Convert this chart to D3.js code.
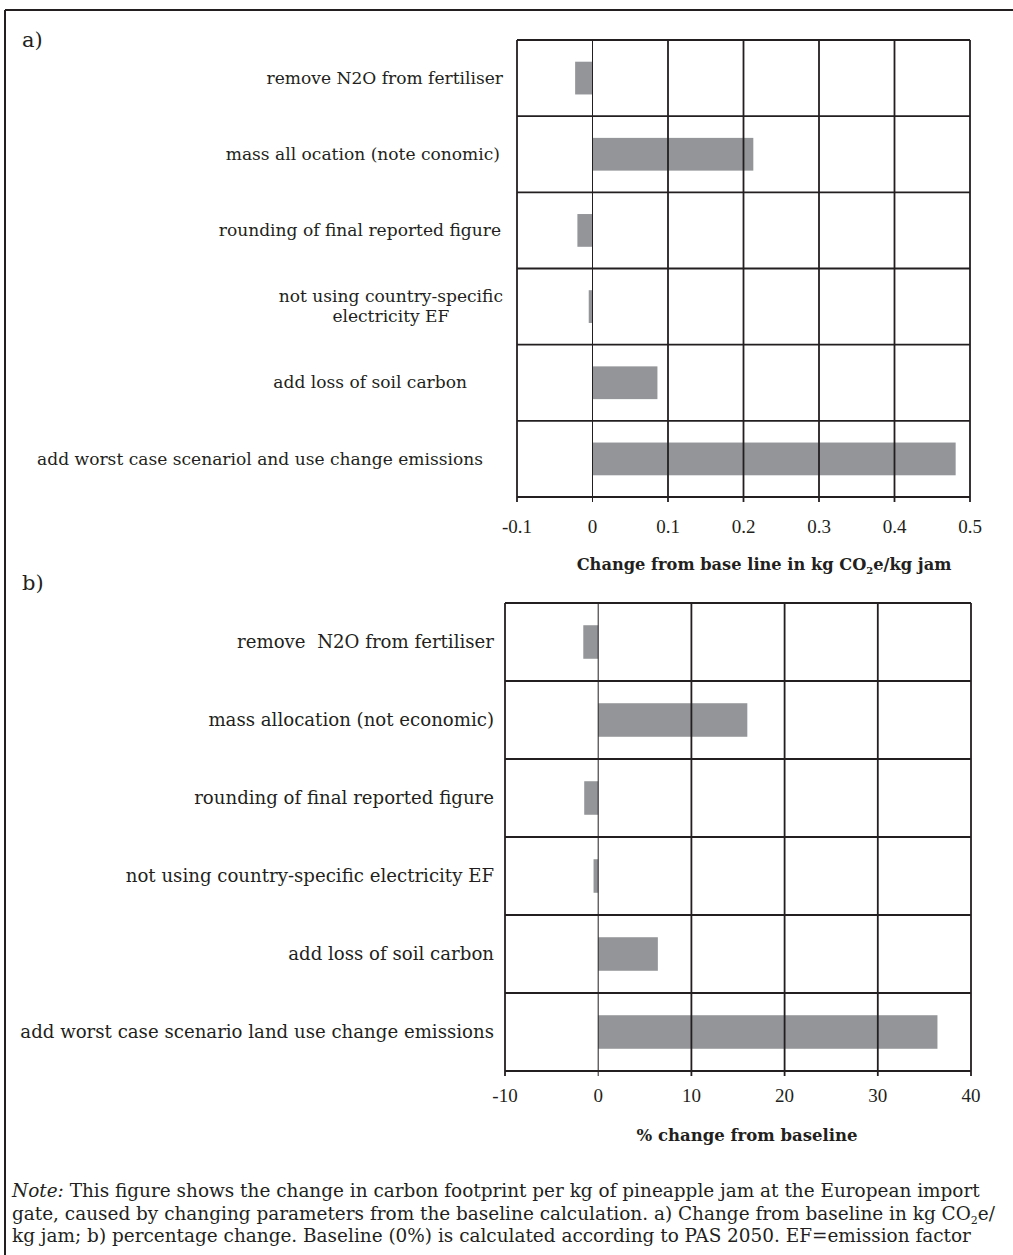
<!DOCTYPE html>
<html>
<head>
<meta charset="utf-8">
<script src="https://cdn.jsdelivr.net/npm/d3@7"></script>
<style>
  body { margin: 0; background: #fff; }
  svg { display: block; }
  text { font-family: 'DejaVu Serif', 'Liberation Serif', serif; fill: #231f20; }
  text.tick { font-family: 'Liberation Serif', 'Times New Roman', serif; }
</style>
</head>
<body>
<svg id="chart" width="1013" height="1255"></svg>
<script>
// panel a: change in kg CO2e / kg jam
const categoriesA = [
  'remove N2O from fertiliser',
  'mass all ocation (note conomic)',
  'rounding of final reported figure',
  'not using country-specific\nelectricity EF',
  'add loss of soil carbon',
  'add worst case scenariol and use change emissions'
]
const valuesA = [-0.023, 0.213, -0.02, -0.005, 0.086, 0.481]
const ticksA = [-0.1, 0, 0.1, 0.2, 0.3, 0.4, 0.5]

// panel b: % change
const categoriesB = [
  'remove  N2O from fertiliser',
  'mass allocation (not economic)',
  'rounding of final reported figure',
  'not using country-specific electricity EF',
  'add loss of soil carbon',
  'add worst case scenario land use change emissions'
]
const valuesB = [-1.6, 16.0, -1.5, -0.5, 6.4, 36.4]
const ticksB = [-10, 0, 10, 20, 30, 40]

const noteLines = [
  [{ t: 'Note:', i: true }, { t: ' This figure shows the change in carbon footprint per kg of pineapple jam at the European import' }],
  [{ t: 'gate, caused by changing parameters from the baseline calculation. a) Change from baseline in kg CO' }, { t: '2', sub: true }, { t: 'e/', up: true }],
  [{ t: 'kg jam; b) percentage change. Baseline (0%) is calculated according to PAS 2050. EF=emission factor' }]
]

const BAR = '#939598'
const INK = '#231f20'

const svg = d3.select('#chart')

// scale a text's font so it spans the wanted width
function fit(sel, width) {
  const size = +sel.attr('font-size')
  const w = sel.node().getComputedTextLength()
  return size * width / w
}

// page frame (top + left rule)
svg.append('line').attr('x1', 5).attr('x2', 1013).attr('y1', 10).attr('y2', 10)
  .attr('stroke', INK).attr('stroke-width', 2)
svg.append('line').attr('x1', 5).attr('x2', 5).attr('y1', 10).attr('y2', 1255)
  .attr('stroke', INK).attr('stroke-width', 2)

function drawPanel(opts) {
  const { cats, vals, ticks, left, right, top, bottom, labelEnds, labelWidth, tag, tagY } = opts
  const x = d3.scaleLinear().domain([ticks[0], ticks[ticks.length - 1]]).range([left, right])
  const y = d3.scaleBand().domain(d3.range(cats.length)).range([top, bottom])
  const g = svg.append('g')

  g.selectAll('rect.bar')
    .data(vals)
    .enter()
    .append('rect')
    .attr('class', 'bar')
    .attr('x', (d) => x(Math.min(0, d)))
    .attr('width', (d) => Math.abs(x(d) - x(0)))
    .attr('y', (d, i) => y(i) + y.bandwidth() * 0.285)
    .attr('height', y.bandwidth() * 0.43)
    .attr('fill', BAR)

  // vertical grid lines, running down into small ticks
  g.selectAll('line.vgrid')
    .data(ticks)
    .enter()
    .append('line')
    .attr('x1', (d) => x(d)).attr('x2', (d) => x(d))
    .attr('y1', top).attr('y2', bottom + 5)
    .attr('stroke', INK)
    .attr('stroke-width', (d) => (d === 0 ? 1 : 1.8))

  g.selectAll('line.hgrid')
    .data(d3.range(cats.length + 1))
    .enter()
    .append('line')
    .attr('x1', left).attr('x2', right)
    .attr('y1', (i) => (i < cats.length ? y(i) : bottom))
    .attr('y2', (i) => (i < cats.length ? y(i) : bottom))
    .attr('stroke', INK)
    .attr('stroke-width', 1.8)

  g.selectAll('text.tick')
    .data(ticks)
    .enter()
    .append('text')
    .attr('class', 'tick')
    .attr('x', (d) => x(d))
    .attr('y', opts.tickY)
    .attr('text-anchor', 'middle')
    .attr('font-size', 19)
    .text((d) => String(d))

  // font size from the longest label
  const probe = g.append('text').attr('font-size', 18).text(cats[cats.length - 1])
  const labelSize = fit(probe, labelWidth)
  probe.remove()

  cats.forEach((c, i) => {
    const lines = c.split('\n')
    const cy = y(i) + y.bandwidth() / 2
    const t = g.append('text')
      .attr('font-size', labelSize)
      .attr('xml:space', 'preserve')
      .style('white-space', 'pre')
    const lh = labelSize * 1.2
    lines.forEach((ln, k) => {
      t.append('tspan')
        .attr('y', cy + (k - (lines.length - 1) / 2) * lh + labelSize * 0.33)
        .text(ln)
    })
    if (lines.length === 1) {
      t.attr('text-anchor', 'end').selectAll('tspan').attr('x', labelEnds[i])
    } else {
      // wrapped label: lines centred under the widest one
      const spans = t.selectAll('tspan').nodes()
      const w = d3.max(spans, (s) => s.getComputedTextLength())
      t.attr('text-anchor', 'middle').selectAll('tspan').attr('x', labelEnds[i] - w / 2)
    }
  })

  svg.append('text').attr('x', 22).attr('y', tagY).attr('font-size', 21).text(tag)

  return g
}

const gA = drawPanel({
  cats: categoriesA, vals: valuesA, ticks: ticksA,
  left: 517, right: 970, top: 40, bottom: 497,
  labelEnds: [503, 500, 501, 503, 467, 483], labelWidth: 446,
  tickY: 533, tag: 'a)', tagY: 47
})
const titleA = gA.append('text')
  .attr('x', 764).attr('y', 570).attr('text-anchor', 'middle')
  .attr('font-size', 16).attr('font-weight', 'bold')
titleA.append('tspan').text('Change from base line in kg CO')
titleA.append('tspan').attr('font-size', 10).attr('dy', 4).text('2')
titleA.append('tspan').attr('dy', -4).text('e/kg jam')
titleA.attr('font-size', fit(titleA, 375))

const gB = drawPanel({
  cats: categoriesB, vals: valuesB, ticks: ticksB,
  left: 505, right: 971, top: 603, bottom: 1071,
  labelEnds: d3.range(6).map(() => 494), labelWidth: 474,
  tickY: 1102, tag: 'b)', tagY: 590
})
const titleB = gB.append('text')
  .attr('x', 747).attr('y', 1141).attr('text-anchor', 'middle')
  .attr('font-size', 16).attr('font-weight', 'bold')
  .text('% change from baseline')
titleB.attr('font-size', fit(titleB, 221))

// note under the figure
const notes = noteLines.map((parts, k) => {
  const t = svg.append('text').attr('x', 12).attr('y', 1197 + k * 22.5).attr('font-size', 18)
  parts.forEach((p) => {
    const s = t.append('tspan').text(p.t)
    if (p.i) s.attr('font-style', 'italic')
    if (p.sub) s.attr('font-size', 11).attr('dy', 4)
    if (p.up) s.attr('dy', -4)
  })
  return t
})
const noteSize = fit(notes[0], 968)
notes.forEach((t) => t.attr('font-size', noteSize))
</script>
</body>
</html>
